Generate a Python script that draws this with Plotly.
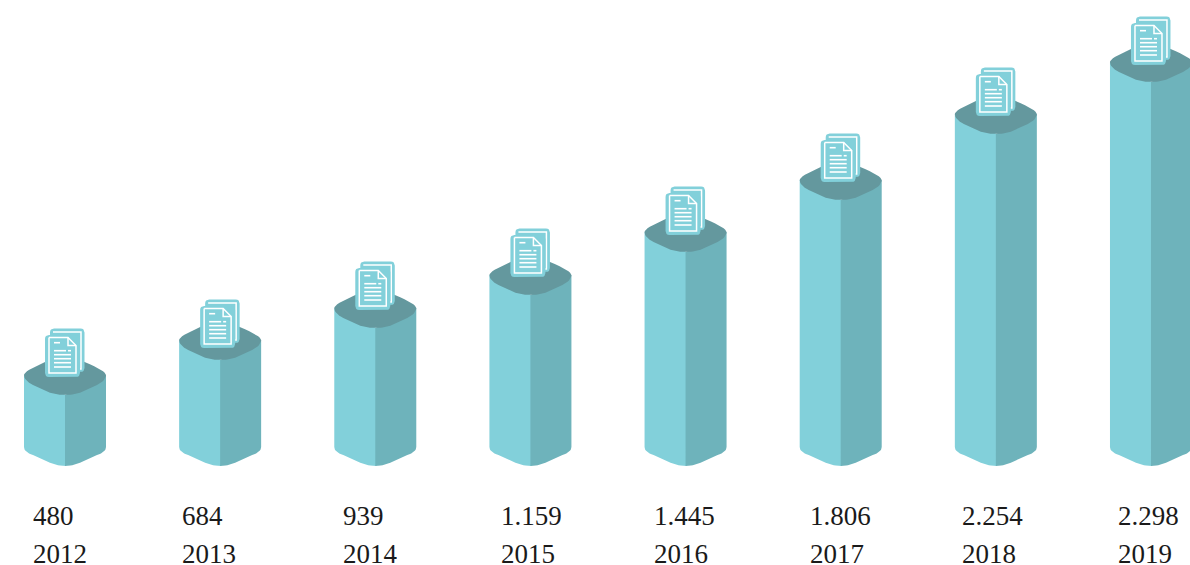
"""
Yearly totals drawn as isometric columns, each topped with a document icon.
"""

import plotly.graph_objects as go

YEARS = ["2012", "2013", "2014", "2015", "2016", "2017", "2018", "2019"]
VALUE_LABELS = ["480", "684", "939", "1.159", "1.445", "1.806", "2.254", "2.298"]
# drawn column heights, the picture does not scale them linearly with the labels
COLUMN_HEIGHTS = [91, 126, 158, 191, 234, 286, 352, 404]
# the icons do not sit at quite the same spot on every column
ICON_HEIGHTS = [91, 120, 158, 191, 233, 286, 352, 403]

LABEL_LEFT = [33, 182, 343, 501, 654, 810, 962, 1118]

WIDTH, HEIGHT = 1190, 565
FIRST_CENTER, SPACING = 65, 155.14
BASELINE = 466

COLOR_LEFT = "#82D0DA"
COLOR_RIGHT = "#6EB3BB"
COLOR_TOP = "#64989E"
COLOR_TEXT = "#1A1A1A"


def curve(p0, ctrl, p1, n=8):
    """Points along a quadratic bezier, p0 excluded."""
    pts = []
    for i in range(1, n + 1):
        t = i / n
        pts.append((
            (1 - t) ** 2 * p0[0] + 2 * t * (1 - t) * ctrl[0] + t**2 * p1[0],
            (1 - t) ** 2 * p0[1] + 2 * t * (1 - t) * ctrl[1] + t**2 * p1[1],
        ))
    return pts


def rounded_rect(x0, x1, y0, y1, r=4):
    pts = [(x0 + r, y0), (x1 - r, y0)]
    pts += curve((x1 - r, y0), (x1, y0), (x1, y0 + r), 4)
    pts.append((x1, y1 - r))
    pts += curve((x1, y1 - r), (x1, y1), (x1 - r, y1), 4)
    pts.append((x0 + r, y1))
    pts += curve((x0 + r, y1), (x0, y1), (x0, y1 - r), 4)
    pts.append((x0, y0 + r))
    pts += curve((x0, y0 + r), (x0, y0), (x0 + r, y0), 4)
    return pts


def left_face(h, seam=0):
    # seam pushes the edge under the right face so no light line shows between them
    pts = [(seam, h - 20), (-41, h), (-41, 19)]
    pts += curve((-41, 19), (-41, 14), (-32, 11))
    pts.append((-15, 3.3))
    pts += curve((-15, 3.3), (-7, 0), (seam, 0))
    return pts


def top_face(h):
    half = [(-20, 13)]
    half += curve((-20, 13), (-41, 4), (-41, 0))
    half += curve((-41, 0), (-41, -5.5), (-32, -10))
    half.append((-15, -17.7))
    half += curve((-15, -17.7), (-7, -20), (0, -20))
    mirrored = [(-x, y) for x, y in reversed(half)]
    back = curve((20, 13), (8, 19), (0, 19)) + curve((0, 19), (-8, 19), (-20, 13))
    return [(x, y + h) for x, y in half + mirrored[1:] + back]


def add_shape_trace(fig, shapes, fill=None, line_color=None, line_width=0):
    """One scatter trace from pixel offset lists, shapes are (slot, points)."""
    xs, ys = [], []
    for slot, pts in shapes:
        xs += [slot + x / SPACING for x, _ in pts] + [None]
        ys += [y for _, y in pts] + [None]
    fig.add_trace(
        go.Scatter(
            x=xs,
            y=ys,
            mode="lines",
            fill="toself" if fill else None,
            fillcolor=fill,
            line=dict(color=line_color or fill, width=line_width),
            hoverinfo="skip",
            showlegend=False,
        )
    )


def shifted(pts, h):
    return [(x, y + h) for x, y in pts]


slots = range(len(YEARS))
fig = go.Figure()

add_shape_trace(fig, [(i, left_face(COLUMN_HEIGHTS[i], seam=1)) for i in slots], fill=COLOR_LEFT)
add_shape_trace(fig, [(i, [(-x, y) for x, y in left_face(COLUMN_HEIGHTS[i])]) for i in slots], fill=COLOR_RIGHT)
add_shape_trace(fig, [(i, top_face(COLUMN_HEIGHTS[i])) for i in slots], fill=COLOR_TOP)

# document icon, back sheet first
add_shape_trace(fig, [(i, shifted(rounded_rect(-15, 19.5, 3, 46.5), ICON_HEIGHTS[i])) for i in slots], fill=COLOR_LEFT)
add_shape_trace(
    fig,
    [(i, shifted([(-12, 43), (16, 43), (16, 6), (-12, 6)], ICON_HEIGHTS[i])) for i in slots],
    line_color="white",
    line_width=1.5,
)
add_shape_trace(fig, [(i, shifted(rounded_rect(-20, 15, -2, 40), ICON_HEIGHTS[i])) for i in slots], fill=COLOR_LEFT)
add_shape_trace(
    fig,
    [(i, shifted([(-16, 37.5), (3, 37.5), (11, 29.5), (11, 2), (-16, 2), (-16, 37.5)], ICON_HEIGHTS[i])) for i in slots]
    + [(i, shifted([(3, 37.5), (3, 29.5), (11, 29.5)], ICON_HEIGHTS[i])) for i in slots],
    line_color="white",
    line_width=1.5,
)
text_rows = [
    [(-11, 32.3), (-5, 32.3)],
    [(-11, 24.3), (1, 24.3)],
    [(3, 24.3), (6, 24.3)],
    [(-11, 20.3), (6, 20.3)],
    [(-11, 16.3), (6, 16.3)],
    [(-11, 12.3), (6, 12.3)],
    [(-11, 8), (6, 8)],
]
add_shape_trace(
    fig,
    [(i, shifted(row, ICON_HEIGHTS[i])) for i in slots for row in text_rows],
    line_color="white",
    line_width=1.6,
)

for i in slots:
    for text, y_px in ((VALUE_LABELS[i], 516), (YEARS[i], 554)):
        fig.add_annotation(
            x=LABEL_LEFT[i] / WIDTH,
            y=1 - y_px / HEIGHT,
            xref="paper",
            yref="paper",
            text=text,
            showarrow=False,
            xanchor="left",
            yanchor="middle",
            xshift=-2,
            height=22,
            font=dict(family="Liberation Serif, serif", size=27, color=COLOR_TEXT),
        )

fig.update_layout(
    width=WIDTH,
    height=HEIGHT,
    margin=dict(l=0, r=0, t=0, b=0),
    plot_bgcolor="white",
    paper_bgcolor="white",
    showlegend=False,
    xaxis=dict(
        range=[-FIRST_CENTER / SPACING, (WIDTH - FIRST_CENTER) / SPACING],
        visible=False,
    ),
    yaxis=dict(range=[BASELINE - HEIGHT, BASELINE], visible=False),
)

# page margin would push the fixed-size figure out of the window
fig.write_html(
    "out.html",
    config={"displayModeBar": False},
    post_script="document.body.style.margin = '0';",
)
